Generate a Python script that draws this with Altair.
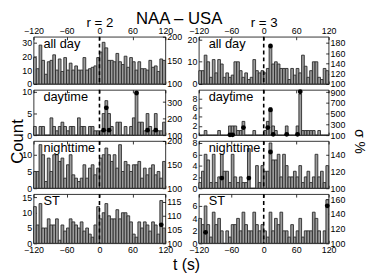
import altair as alt
import pandas as pd

FONT = "Liberation Sans"

# 5-second bins from -120 s to 120 s
bin_start = [-120, -115, -110, -105, -100, -95, -90, -85, -80, -75, -70, -65,
             -60, -55, -50, -45, -40, -35, -30, -25, -20, -15, -10, -5,
             0, 5, 10, 15, 20, 25, 30, 35, 40, 45, 50, 55,
             60, 65, 70, 75, 80, 85, 90, 95, 100, 105, 110, 115]
bin_end = [-115, -110, -105, -100, -95, -90, -85, -80, -75, -70, -65, -60,
           -55, -50, -45, -40, -35, -30, -25, -20, -15, -10, -5, 0,
           5, 10, 15, 20, 25, 30, 35, 40, 45, 50, 55, 60,
           65, 70, 75, 80, 85, 90, 95, 100, 105, 110, 115, 120]
x_ticks = [-120, -60, 0, 60, 120]

column_titles = ["r = 2", "r = 3"]
panel_labels = ["all day", "daytime", "nighttime", "ST"]

# counts (left axis)
counts_r2_allday = [19, 11, 28, 17, 7, 16, 17, 21, 10, 18, 9, 19, 10, 15, 10, 13, 10, 10, 19, 10, 11, 12, 13, 19,
                    23, 30, 26, 17, 17, 16, 22, 16, 14, 20, 12, 19, 16, 10, 16, 11, 11, 10, 17, 12, 13, 9, 18, 17]
counts_r3_allday = [6, 6, 13, 10, 3, 11, 5, 11, 9, 3, 5, 3, 4, 10, 10, 6, 3, 5, 2, 3, 11, 6, 5, 6,
                    5, 7, 17, 9, 10, 9, 7, 7, 7, 2, 7, 4, 7, 5, 13, 8, 3, 6, 10, 10, 3, 2, 7, 6]
counts_r2_daytime = [2, 0, 2, 2, 0, 0, 4, 2, 1, 2, 3, 2, 1, 2, 2, 0, 4, 2, 2, 0, 2, 2, 1, 1,
                     1, 5, 8, 5, 2, 0, 3, 3, 0, 2, 0, 2, 4, 10, 3, 3, 1, 5, 2, 1, 5, 1, 1, 3]
counts_r3_daytime = [0, 0, 1, 0, 0, 0, 0, 1, 0, 0, 0, 2, 2, 2, 1, 1, 3, 0, 0, 0, 1, 0, 0, 0,
                     1, 3, 6, 2, 1, 0, 0, 0, 2, 0, 0, 0, 2, 9, 1, 1, 1, 1, 1, 0, 1, 0, 0, 0]
counts_r2_nighttime = [5, 5, 13, 10, 2, 9, 5, 10, 10, 8, 9, 3, 7, 10, 4, 3, 2, 3, 7, 3, 6, 7, 4, 6,
                       9, 10, 12, 10, 8, 10, 6, 13, 5, 8, 7, 5, 7, 7, 8, 3, 6, 4, 6, 7, 4, 5, 3, 8]
counts_r3_nighttime = [1, 3, 6, 5, 1, 6, 1, 2, 6, 3, 3, 1, 6, 2, 1, 2, 1, 1, 7, 0, 0, 4, 1, 4,
                       3, 3, 8, 5, 5, 6, 2, 6, 4, 2, 2, 3, 2, 4, 1, 2, 3, 1, 2, 6, 2, 3, 1, 4]
counts_r2_st = [12, 6, 13, 5, 5, 8, 6, 6, 8, 1, 6, 4, 5, 8, 7, 6, 5, 7, 4, 5, 3, 2, 6, 12,
                8, 10, 13, 9, 8, 8, 11, 8, 10, 10, 9, 7, 3, 2, 7, 5, 7, 6, 4, 7, 6, 3, 14, 5]
counts_r3_st = [4, 3, 6, 3, 1, 5, 3, 4, 2, 0, 2, 1, 3, 3, 4, 2, 5, 3, 2, 2, 5, 3, 2, 3,
                2, 1, 5, 2, 4, 3, 5, 2, 2, 1, 3, 1, 2, 4, 1, 2, 2, 2, 5, 4, 2, 0, 2, 7]

# sigma % dots (right axis)
dots_r2_allday_t, dots_r2_allday_s = [], []
dots_r3_allday_t, dots_r3_allday_s = [12.5], [174]
dots_r2_daytime_t = [7.5, 12.5, 17.5, 67.5, 87.5, 102.5]
dots_r2_daytime_s = [130, 265, 130, 355, 130, 130]
dots_r3_daytime_t = [-62.5, -57.5, -37.5, 7.5, 12.5, 17.5, 42.5, 62.5, 67.5]
dots_r3_daytime_s = [105, 105, 240, 240, 570, 115, 115, 115, 910]
dots_r2_nighttime_t, dots_r2_nighttime_s = [], []
dots_r3_nighttime_t = [-77.5, -27.5, 12.5]
dots_r3_nighttime_s = [112, 112, 143]
dots_r2_st_t, dots_r2_st_s = [112.5], [106.7]
dots_r3_st_t, dots_r3_st_s = [-107.5, 117.5], [115, 151]

# axis ranges / ticks
count_max = {2: [34, 10.5, 14.1, 16.1], 3: [21.3, 9.9, 8.35, 7.9]}
count_ticks = {2: [[0, 10, 20, 30], [0, 5, 10], [0, 5, 10], [0, 5, 10, 15]],
               3: [[0, 10, 20], [0, 2, 4, 6, 8], [0, 2, 4, 6, 8], [0, 2, 4, 6]]}
sigma_max = {2: [200, 374, 200, 117.8], 3: [192, 945, 156, 167]}
sigma_ticks = {2: [[100, 150, 200], [100, 200, 300], [100, 150, 200], [100, 105, 110, 115]],
               3: [[100, 120, 140, 160, 180], [100, 300, 500, 700, 900], [100, 120, 140], [100, 120, 140, 160]]}

counts = {2: [counts_r2_allday, counts_r2_daytime, counts_r2_nighttime, counts_r2_st],
          3: [counts_r3_allday, counts_r3_daytime, counts_r3_nighttime, counts_r3_st]}
dots = {2: [(dots_r2_allday_t, dots_r2_allday_s), (dots_r2_daytime_t, dots_r2_daytime_s),
            (dots_r2_nighttime_t, dots_r2_nighttime_s), (dots_r2_st_t, dots_r2_st_s)],
        3: [(dots_r3_allday_t, dots_r3_allday_s), (dots_r3_daytime_t, dots_r3_daytime_s),
            (dots_r3_nighttime_t, dots_r3_nighttime_s), (dots_r3_st_t, dots_r3_st_s)]}

widths = {2: 134, 3: 132}
heights = [48, 46, 48, 50]

AX = dict(grid=False, domain=False, tickSize=3, offset=-3, labelFontSize=9,
          labelFont=FONT, tickColor="black", labelColor="black", labelFlush=False,
          labelOverlap=False, tickWidth=0.8, titleFont=FONT, titleFontWeight="normal",
          titleColor="black")


def make_panel(r, row):
    col = 0 if r == 2 else 1
    h = heights[row]
    w = widths[r]
    xs = alt.Scale(domain=[-120, 120], nice=False, zero=False)

    # bottom x axis
    if row == 3 and col == 0:
        bottom_axis = alt.Axis(orient="bottom", values=x_ticks, labels=True, labelPadding=2,
                               title="t (s)", titleFontSize=16, titleX=155, titleY=25,
                               titleAlign="center", titleBaseline="middle", titleAngle=0, **AX)
    else:
        bottom_axis = alt.Axis(orient="bottom", values=x_ticks, labels=(row == 3), labelPadding=2,
                               title=None, **AX)
    # top x axis
    if row == 0:
        top_axis = alt.Axis(orient="top", values=x_ticks, labels=True, labelPadding=1,
                            title=column_titles[col], titleFontSize=13.5, titleX=w / 2, titleY=-17.5,
                            titleAlign="center", titleBaseline="middle", titleAngle=0, **AX)
    else:
        top_axis = alt.Axis(orient="top", values=x_ticks, labels=False, title=None, **AX)
    # left y axis
    if row == 1 and col == 0:
        left_axis = alt.Axis(orient="left", values=count_ticks[r][row], labelPadding=2, title="Count",
                             titleFontSize=17, titleX=-19, titleY=52, titleAngle=270,
                             titleAlign="center", titleBaseline="middle", **AX)
    else:
        left_axis = alt.Axis(orient="left", values=count_ticks[r][row], labelPadding=2, title=None, **AX)
    # right y axis
    if row == 1 and col == 1:
        right_axis = alt.Axis(orient="right", values=sigma_ticks[r][row], labelPadding=1.5, title="σ %",
                              titleFontSize=14, titleX=33, titleY=52, titleAngle=90,
                              titleAlign="center", titleBaseline="middle", **AX)
    else:
        right_axis = alt.Axis(orient="right", values=sigma_ticks[r][row], labelPadding=1.5, title=None, **AX)

    bars_df = pd.DataFrame({"t0": bin_start, "t1": bin_end, "count": counts[r][row]})
    dt, ds = dots[r][row]
    dots_df = pd.DataFrame({"t": dt, "sigma": ds})

    bars = alt.Chart(bars_df).mark_bar(fill="#9c9c9c", stroke="#2a2a2a", strokeWidth=0.9).encode(
        x=alt.X("t0:Q", scale=xs, axis=bottom_axis),
        x2="t1:Q",
        y=alt.Y("count:Q", scale=alt.Scale(domain=[0, count_max[r][row]], nice=False), axis=left_axis),
        y2=alt.datum(0),
    )
    rule = alt.Chart(pd.DataFrame({"t": [0]})).mark_rule(
        color="black", strokeDash=[4, 3], strokeWidth=1.6).encode(
        x=alt.X("t:Q", scale=xs, axis=None))
    text = alt.Chart(pd.DataFrame({"label": [panel_labels[row]]})).mark_text(
        align="left", baseline="top", font=FONT, fontSize=13, color="black").encode(
        x=alt.value(10), y=alt.value(1.5), text="label:N")
    pts = alt.Chart(dots_df).mark_circle(size=24, color="black", opacity=1).encode(
        x=alt.X("t:Q", scale=xs, axis=top_axis),
        y=alt.Y("sigma:Q", scale=alt.Scale(domain=[100, sigma_max[r][row]], nice=False, zero=False),
                axis=right_axis),
    )
    return alt.layer(bars, rule, text, pts).resolve_scale(y="independent").resolve_axis(
        x="independent", y="independent").properties(width=w, height=h)


panels = []
for row in range(4):
    for r in (2, 3):
        panels.append(make_panel(r, row))

chart = alt.concat(*panels, columns=2, spacing={"row": 6, "column": 34}, bounds="flush").properties(
    title=alt.TitleParams("NAA – USA", fontSize=17, font=FONT, fontWeight="normal",
                          anchor="middle", offset=-13.25, dx=-8, color="black"),
    padding={"left": 0, "top": 0, "right": 0, "bottom": 0},
).configure_view(stroke="black", strokeWidth=0.8)

chart.save("out.html", embed_options={"renderer": "svg", "actions": False})
